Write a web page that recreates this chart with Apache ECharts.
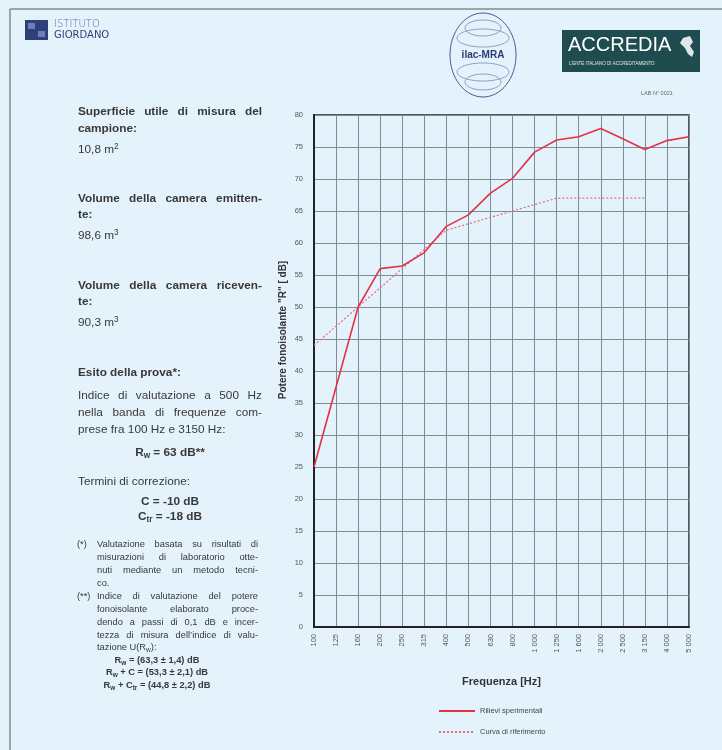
<!DOCTYPE html>
<html>
<head>
<meta charset="utf-8">
<script src="https://cdn.jsdelivr.net/npm/echarts@6/dist/echarts.min.js"></script>
<style>
  html, body { margin:0; padding:0; background:#e4f3fb; }
  #wrap { position:relative; width:722px; height:750px; overflow:hidden; }
  #chart { position:absolute; left:0; top:0; width:722px; height:750px; }
  .t { position:absolute; font-family:"Liberation Sans Narrow", "Liberation Sans", "DejaVu Sans", sans-serif; color:#383838; white-space:nowrap; line-height:1; }
  .b { font-weight:bold; }
  .j { text-align:justify; text-align-last:justify; white-space:normal; }
  .c { text-align:center; }
  .s { font-size:9.3px; }
  .m { font-size:11.8px; }
  sub { font-size:70%; vertical-align:-2px; line-height:0; }
  sup { font-size:70%; vertical-align:4px; line-height:0; }
</style>
</head>
<body>
<div id="wrap">
<div id="chart"></div>
<div id="txt"></div>
</div>
<script>
// ---- data ----
const freqs = ['100','125','160','200','250','315','400','500','630','800','1 000','1 250','1 600','2 000','2 500','3 150','4 000','5 000'];
const measured = [25, 37.5, 50, 56, 56.4, 58.5, 62.6, 64.4, 67.8, 70.1, 74.2, 76.1, 76.6, 77.9, 76.3, 74.6, 76.0, 76.6];
const reference = [44, 47, 50, 53, 56, 59, 62, 63, 64, 65, 66, 67, 67, 67, 67, 67, '-', '-'];
const yTicks = { min: 0, max: 80, step: 5 };
const seriesNames = ['Rilievi sperimentali', 'Curva di riferimento'];

// ---- left column text ----
const lines = [
  ['b m j', 78, 106, 184, 'Superficie utile di misura del'],
  ['b m', 78, 123, 0, 'campione:'],
  ['m', 78, 144, 0, '10,8 m<sup>2</sup>'],
  ['b m j', 78, 193, 184, 'Volume della camera emitten-'],
  ['b m', 78, 209, 0, 'te:'],
  ['m', 78, 230, 0, '98,6 m<sup>3</sup>'],
  ['b m j', 78, 280, 184, 'Volume della camera riceven-'],
  ['b m', 78, 296, 0, 'te:'],
  ['m', 78, 317, 0, '90,3 m<sup>3</sup>'],
  ['b m', 78, 367, 0, 'Esito della prova*:'],
  ['m j', 78, 390, 184, 'Indice di valutazione a 500 Hz'],
  ['m j', 78, 407, 184, 'nella banda di frequenze com-'],
  ['m', 78, 424, 0, 'prese fra 100 Hz e 3150 Hz:'],
  ['b m c', 78, 447, 184, 'R<sub>w</sub> = 63 dB**'],
  ['m', 78, 476, 0, 'Termini di correzione:'],
  ['b m c', 78, 496, 184, 'C = -10 dB'],
  ['b m c', 78, 511, 184, 'C<sub>tr</sub> = -18 dB'],
  ['s', 77, 540, 0, '(*)'],
  ['s j', 97, 540, 161, 'Valutazione basata su risultati di'],
  ['s j', 97, 553, 161, 'misurazioni di laboratorio otte-'],
  ['s j', 97, 566, 161, 'nuti mediante un metodo tecni-'],
  ['s', 97, 579, 0, 'co.'],
  ['s', 77, 592, 0, '(**)'],
  ['s j', 97, 592, 161, 'Indice di valutazione del potere'],
  ['s j', 97, 605, 161, 'fonoisolante elaborato proce-'],
  ['s j', 97, 618, 161, 'dendo a passi di 0,1 dB e incer-'],
  ['s j', 97, 631, 161, 'tezza di misura dell\u2019indice di valu-'],
  ['s', 97, 643, 0, 'tazione U(R<sub>w</sub>):'],
  ['b s c', 77, 656, 160, 'R<sub>w</sub> = (63,3 \u00b1 1,4) dB'],
  ['b s c', 77, 668, 160, 'R<sub>w</sub> + C = (53,3 \u00b1 2,1) dB'],
  ['b s c', 77, 681, 160, 'R<sub>w</sub> + C<sub>tr</sub> = (44,8 \u00b1 2,2) dB']
];
const txt = document.getElementById('txt');
lines.forEach(l => {
  const d = document.createElement('div');
  d.className = 't ' + l[0];
  d.style.left = l[1] + 'px';
  d.style.top = l[2] + 'px';
  if (l[3]) d.style.width = l[3] + 'px';
  d.innerHTML = l[4];
  txt.appendChild(d);
});

const chart = echarts.init(document.getElementById('chart'), null, { renderer: 'canvas' });
const navy = '#2b3a78';
const option = {
  backgroundColor: 'transparent',
  animation: false,
  textStyle: { fontFamily: 'Liberation Sans, DejaVu Sans, sans-serif' },
  grid: { left: 314, right: 33, top: 115, bottom: 123, show: true, borderColor: '#222', borderWidth: 1.5, backgroundColor: 'transparent' },
  legend: {
    orient: 'vertical', left: 433, top: 702, itemWidth: 36, itemHeight: 8, itemGap: 13,
    itemStyle: { opacity: 0 },
    textStyle: { fontSize: 7.5, color: '#444' },
    data: seriesNames
  },
  xAxis: {
    type: 'category', data: freqs, boundaryGap: false,
    name: 'Frequenza [Hz]', nameLocation: 'middle', nameGap: 49,
    nameTextStyle: { fontSize: 11, fontWeight: 'bold', color: '#333' },
    axisLine: { lineStyle: { color: '#222', width: 2 } },
    axisTick: { show: false },
    axisLabel: { rotate: 90, fontSize: 7.5, color: '#555', margin: 7, interval: 0 },
    splitLine: { show: true, interval: 0, lineStyle: { color: '#7d8d94', width: 1 } }
  },
  yAxis: {
    type: 'value', min: yTicks.min, max: yTicks.max, interval: yTicks.step,
    axisLine: { show: true, lineStyle: { color: '#222', width: 2 } },
    axisTick: { show: false },
    axisLabel: { fontSize: 7.5, color: '#555', margin: 11 },
    splitLine: { show: true, lineStyle: { color: '#7d8d94', width: 1 } }
  },
  series: [
    {
      name: seriesNames[0], type: 'line', data: measured, symbol: 'none',
      lineStyle: { color: '#e23246', width: 1.6 }, itemStyle: { color: '#e23246' }, z: 3
    },
    {
      name: seriesNames[1], type: 'line', data: reference, symbol: 'none',
      lineStyle: { color: '#e8687c', width: 1.2, type: [2, 2] }, itemStyle: { color: '#e8687c' }, z: 2
    }
  ],
  graphic: [
    { type: 'line', shape: { x1: 10, y1: 9, x2: 722, y2: 9 }, style: { stroke: '#8a8a8a', lineWidth: 1.5 } },
    { type: 'line', shape: { x1: 10, y1: 9, x2: 10, y2: 750 }, style: { stroke: '#8a8a8a', lineWidth: 1.5 } },
    { type: 'text', x: 283, y: 330, rotation: Math.PI / 2, style: { text: 'Potere fonoisolante "R" [ dB]', fontSize: 10, fontWeight: 'bold', fill: '#333', align: 'center', verticalAlign: 'middle' } },
    { type: 'rect', shape: { x: 25, y: 20, width: 23, height: 20 }, style: { fill: '#2f3f78' } },
    { type: 'rect', shape: { x: 28, y: 23, width: 7, height: 6 }, style: { fill: '#6d7fb8' } },
    { type: 'rect', shape: { x: 38, y: 31, width: 7, height: 6 }, style: { fill: '#6d7fb8' } },
    { type: 'text', x: 54, y: 19, style: { text: 'ISTITUTO', fontSize: 10, fill: '#5a6aa0', fontFamily: 'DejaVu Sans', fontWeight: 'lighter' } },
    { type: 'text', x: 54, y: 30, style: { text: 'GIORDANO', fontSize: 10, fill: '#2f3f78', fontFamily: 'DejaVu Sans' } },
    { type: 'ellipse', shape: { cx: 483, cy: 55, rx: 33, ry: 42 }, style: { fill: 'none', stroke: '#4a5694', lineWidth: 1 } },
    { type: 'ellipse', shape: { cx: 483, cy: 28, rx: 18, ry: 8 }, style: { fill: 'none', stroke: '#7d86b4', lineWidth: 0.8 } },
    { type: 'ellipse', shape: { cx: 483, cy: 38, rx: 26, ry: 9 }, style: { fill: 'none', stroke: '#7d86b4', lineWidth: 0.8 } },
    { type: 'ellipse', shape: { cx: 483, cy: 72, rx: 26, ry: 9 }, style: { fill: 'none', stroke: '#7d86b4', lineWidth: 0.8 } },
    { type: 'ellipse', shape: { cx: 483, cy: 82, rx: 18, ry: 8 }, style: { fill: 'none', stroke: '#7d86b4', lineWidth: 0.8 } },
    { type: 'rect', shape: { x: 456, y: 48, width: 54, height: 14 }, style: { fill: '#e4f3fb' } },
    { type: 'text', x: 483, y: 55, style: { text: 'ilac-MRA', fontSize: 10, fontWeight: 'bold', fill: navy, align: 'center', verticalAlign: 'middle' } },
    { type: 'rect', shape: { x: 562, y: 30, width: 138, height: 42 }, style: { fill: '#1f4c4e' } },
    { type: 'text', x: 568, y: 35, style: { text: 'ACCREDIA', fontSize: 20, fill: '#ffffff', fontFamily: 'Liberation Sans' } },
    { type: 'text', x: 569, y: 61, style: { text: "L'ENTE ITALIANO DI ACCREDITAMENTO", fontSize: 4.5, fill: '#e0e8e8' } },
    { type: 'polygon', shape: { points: [[683, 38], [690, 36], [693, 42], [690, 46], [694, 52], [692, 57], [688, 54], [685, 48], [680, 43]] }, style: { fill: '#dfe6e6' } },
    { type: 'text', x: 641, y: 90, style: { text: 'LAB N\u00b0 0021', fontSize: 5.5, fill: '#666' } }
  ]
};
chart.setOption(option);
</script>
</body>
</html>
